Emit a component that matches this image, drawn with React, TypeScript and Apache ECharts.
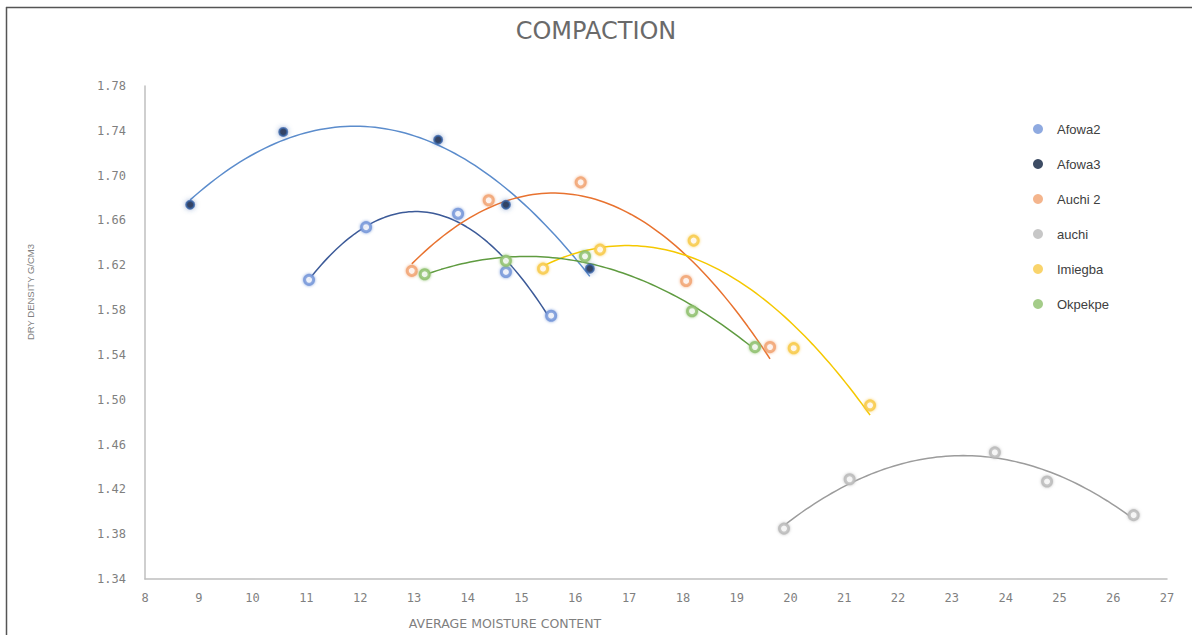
import React, { useEffect, useRef } from "react";
import * as echarts from "echarts";

const seriesNames = ["Afowa2", "Afowa3", "Auchi 2", "auchi", "Imiegba", "Okpekpe"];

const afowa2X = [11.05, 12.11, 13.82, 14.71, 15.55];
const afowa2Y = [1.607, 1.654, 1.666, 1.614, 1.575];

const afowa3X = [8.84, 10.57, 13.45, 14.71, 16.27];
const afowa3Y = [1.674, 1.739, 1.732, 1.674, 1.617];

const auchi2X = [12.96, 14.39, 16.1, 18.06, 19.62];
const auchi2Y = [1.615, 1.678, 1.694, 1.606, 1.547];

const auchiX = [19.88, 21.1, 23.8, 24.77, 26.38];
const auchiY = [1.385, 1.429, 1.453, 1.427, 1.397];

const imiegbaX = [15.4, 16.46, 18.2, 20.06, 21.48];
const imiegbaY = [1.617, 1.634, 1.642, 1.546, 1.495];

const okpekpeX = [13.2, 14.71, 16.18, 18.17, 19.34];
const okpekpeY = [1.612, 1.624, 1.628, 1.579, 1.547];

const xTicks = { min: 8, max: 27, step: 1 };
const yTicks = { min: 1.34, max: 1.78, step: 0.04 };

const markerColors = ["#7395d8", "#0d1f3d", "#f1a271", "#b9b9b9", "#f8c947", "#8dbf6c"];
const markerBorders = ["#7395d8", "#3a64a8", "#f1a271", "#b9b9b9", "#f8c947", "#8dbf6c"];
const trendColors = ["#3c5a98", "#5b8ccc", "#e8722f", "#9c9c9c", "#f5c800", "#5f9b40"];

const xs = [afowa2X, afowa3X, auchi2X, auchiX, imiegbaX, okpekpeX];
const ys = [afowa2Y, afowa3Y, auchi2Y, auchiY, imiegbaY, okpekpeY];

// Quadratic least-squares trendline (as Excel's polynomial order-2 trendline)
function quadFit(x: number[], y: number[]) {
  let s0 = 0, s1 = 0, s2 = 0, s3 = 0, s4 = 0, t0 = 0, t1 = 0, t2 = 0;
  for (let i = 0; i < x.length; i++) {
    const a = x[i], b = y[i];
    s0 += 1; s1 += a; s2 += a * a; s3 += a * a * a; s4 += a * a * a * a;
    t0 += b; t1 += a * b; t2 += a * a * b;
  }
  const M = [
    [s0, s1, s2, t0],
    [s1, s2, s3, t1],
    [s2, s3, s4, t2],
  ];
  for (let c = 0; c < 3; c++) {
    let p = c;
    for (let r = c + 1; r < 3; r++) if (Math.abs(M[r][c]) > Math.abs(M[p][c])) p = r;
    [M[c], M[p]] = [M[p], M[c]];
    for (let r = 0; r < 3; r++) {
      if (r === c) continue;
      const f = M[r][c] / M[c][c];
      for (let k = c; k < 4; k++) M[r][k] -= f * M[c][k];
    }
  }
  return [M[0][3] / M[0][0], M[1][3] / M[1][1], M[2][3] / M[2][2]];
}

function trendPoints(x: number[], y: number[]) {
  const [a, b, c] = quadFit(x, y);
  const lo = Math.min(...x), hi = Math.max(...x);
  const pts: number[][] = [];
  const n = 80;
  for (let i = 0; i <= n; i++) {
    const t = lo + ((hi - lo) * i) / n;
    pts.push([t, a + b * t + c * t * t]);
  }
  return pts;
}

export default function App() {
  const ref = useRef<HTMLDivElement>(null);
  useEffect(() => {
    document.body.style.margin = "0";
    const chart = echarts.init(ref.current!, undefined, { renderer: "svg" });
    const series: any[] = [];
    seriesNames.forEach((name, i) => {
      series.push({
        name: name + " trend",
        type: "line",
        data: trendPoints(xs[i], ys[i]),
        showSymbol: false,
        silent: true,
        lineStyle: { color: trendColors[i], width: 1.5 },
        z: 2,
      });
    });
    seriesNames.forEach((name, i) => {
      const isA3 = i === 1;
      series.push({
        name,
        type: "scatter",
        data: xs[i].map((v, j) => [v, ys[i][j]]),
        symbol: "circle",
        symbolSize: isA3 ? 8 : 9,
        itemStyle: isA3
          ? { color: markerColors[i], borderColor: markerBorders[i], borderWidth: 2, shadowBlur: 5, shadowColor: "rgba(60,100,170,0.6)" }
          : { color: "#ffffff", borderColor: markerBorders[i], borderWidth: 3, shadowBlur: 3, shadowColor: markerBorders[i] },
        z: 3,
      });
    });

    chart.setOption({
      animation: false,
      backgroundColor: "#ffffff",
      title: {
        text: "COMPACTION",
        left: "center",
        top: 14,
        textStyle: { fontFamily: "DejaVu Sans", fontSize: 24, fontWeight: "normal", color: "#6a6a6a" },
      },
      legend: {
        orient: "vertical",
        left: 1028,
        top: 117,
        itemWidth: 10,
        itemHeight: 10,
        itemGap: 21,
        icon: "circle",
        data: seriesNames.map((n, i) => ({ name: n, itemStyle: { color: markerColors[i], borderWidth: 0 } })),
        textStyle: { fontFamily: "Liberation Sans", fontSize: 13, color: "#404040", lineHeight: 14, padding: [0, 0, 0, 9] },
      },
      grid: { left: 145, right: 25, top: 86, bottom: 56 },
      xAxis: {
        type: "value",
        min: xTicks.min,
        max: xTicks.max,
        interval: xTicks.step,
        axisLine: { show: true, lineStyle: { color: "#bfbfbf", width: 1.5 } },
        axisTick: { show: false },
        splitLine: { show: false },
        axisLabel: { fontFamily: "DejaVu Sans Mono", fontSize: 12, color: "#7f7f7f", margin: 13 },
      },
      yAxis: {
        type: "value",
        min: yTicks.min,
        max: yTicks.max,
        interval: yTicks.step / 2,
        axisLine: { show: true, lineStyle: { color: "#bfbfbf", width: 1.5 } },
        axisTick: { show: false },
        splitLine: { show: false },
        axisLabel: {
          fontFamily: "DejaVu Sans Mono",
          fontSize: 12,
          color: "#7f7f7f",
          margin: 19,
          formatter: (v: number) => {
            const k = Math.round((v - yTicks.min) / (yTicks.step / 2));
            return k % 2 === 0 ? v.toFixed(2) : "";
          },
        },
      },
      graphic: [
        { type: "line", shape: { x1: 6, y1: 7.5, x2: 1192, y2: 7.5 }, style: { stroke: "#555", lineWidth: 1.5 } },
        { type: "line", shape: { x1: 6.5, y1: 7, x2: 6.5, y2: 635 }, style: { stroke: "#555", lineWidth: 1.5 } },
        {
          type: "text",
          x: 505,
          y: 623,
          style: { text: "AVERAGE MOISTURE CONTENT", fontFamily: "DejaVu Sans", fontSize: 12.5, fill: "#7f7f7f", align: "center", verticalAlign: "middle" },
        },
        {
          type: "text",
          x: 30,
          y: 292,
          rotation: Math.PI / 2,
          style: { text: "DRY DENSITY G/CM3", fontFamily: "Liberation Sans", fontSize: 9.5, fill: "#7f7f7f", align: "center", verticalAlign: "middle" },
        },
      ],
      series,
    });
    return () => chart.dispose();
  }, []);
  return <div ref={ref} style={{ width: 1192, height: 635 }} />;
}
